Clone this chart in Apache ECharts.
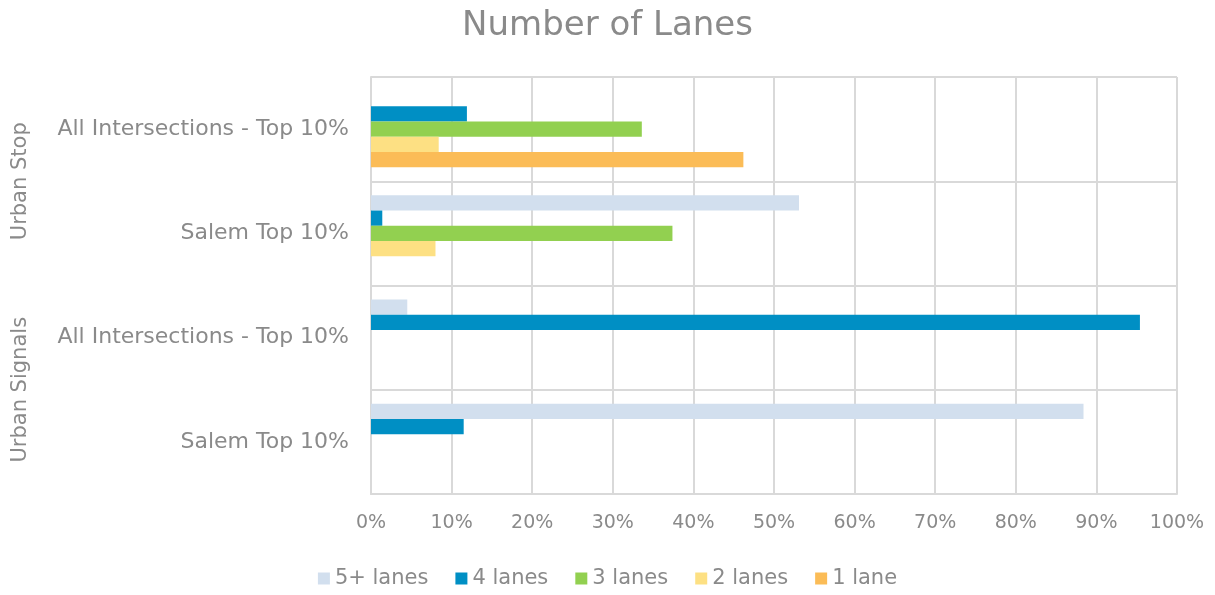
<!DOCTYPE html>
<html>
<head>
<meta charset="utf-8">
<script src="https://cdn.jsdelivr.net/npm/echarts@6/dist/echarts.min.js"></script>
<style>
  html, body { margin: 0; padding: 0; background: #ffffff; }
  #chart { width: 1215px; height: 595px; }
</style>
</head>
<body>
<div id="chart"></div>
<script>
// Categories, top to bottom
const categories = [
  'All Intersections - Top 10%',
  'Salem Top 10%',
  'All Intersections - Top 10%',
  'Salem Top 10%'
];
// Outer grouping of the categories (two per group)
const groups = ['Urban Stop', 'Urban Signals'];

// Share of intersections (%) by number of lanes
const lanes5plus = [0, 53.1, 4.5, 88.4];
const lanes4 = [11.9, 1.4, 95.4, 11.5];
const lanes3 = [33.6, 37.4, 0, 0];
const lanes2 = [8.4, 8.0, 0, 0];
const lanes1 = [46.2, 0, 0, 0];

const seriesNames = ['5+ lanes', '4 lanes', '3 lanes', '2 lanes', '1 lane'];
const seriesValues = [lanes5plus, lanes4, lanes3, lanes2, lanes1];
const seriesColors = ['#d2dfee', '#008fc4', '#92d050', '#fde083', '#fbbc57'];

const FONT = 'DejaVu Sans';
const WEIGHT = 'normal';
const GREY = '#8a8a8a';
const LINE = '#d9d9d9';

const chart = echarts.init(document.getElementById('chart'));

chart.setOption({
  animation: false,
  backgroundColor: '#ffffff',
  textStyle: { fontFamily: FONT, fontWeight: WEIGHT },
  title: {
    text: 'Number of Lanes',
    left: 'center',
    top: 4,
    textStyle: { fontFamily: FONT, fontSize: 34, fontWeight: WEIGHT, color: GREY }
  },
  legend: {
    data: seriesNames,
    bottom: 1,
    left: 'center',
    itemWidth: 12,
    itemHeight: 12,
    itemGap: 27,
    icon: 'rect',
    textStyle: { fontFamily: FONT, fontWeight: WEIGHT, fontSize: 21, color: GREY }
  },
  grid: { left: 371, right: 38, top: 77, bottom: 101 },
  xAxis: {
    type: 'value',
    min: 0,
    max: 100,
    interval: 10,
    axisLine: { show: true, lineStyle: { color: LINE, width: 2 } },
    axisTick: { show: false },
    axisLabel: {
      formatter: '{value}%',
      margin: 20,
      fontFamily: FONT,
      fontWeight: WEIGHT,
      fontSize: 19,
      color: GREY
    },
    splitLine: { show: true, lineStyle: { color: LINE, width: 2 } }
  },
  yAxis: [
    {
      type: 'category',
      data: categories,
      inverse: true,
      axisLine: { show: true, lineStyle: { color: LINE, width: 2 } },
      axisTick: { show: false },
      axisLabel: { margin: 22, fontFamily: FONT, fontWeight: WEIGHT, fontSize: 22, color: GREY },
      splitLine: { show: true, interval: 0, lineStyle: { color: LINE, width: 2 } }
    },
    {
      type: 'category',
      data: groups,
      inverse: true,
      position: 'left',
      offset: 350,
      axisLine: { show: false },
      axisTick: { show: false },
      splitLine: { show: false },
      axisLabel: {
        rotate: 90,
        align: 'center',
        verticalAlign: 'middle',
        margin: 0,
        fontFamily: FONT,
        fontWeight: WEIGHT,
        fontSize: 21,
        color: GREY
      }
    }
  ],
  series: seriesNames.map((name, i) => ({
    name: name,
    type: 'bar',
    yAxisIndex: 0,
    data: seriesValues[i],
    barGap: '0%',
    barCategoryGap: '27%',
    itemStyle: { color: seriesColors[i] }
  }))
});
</script>
</body>
</html>
